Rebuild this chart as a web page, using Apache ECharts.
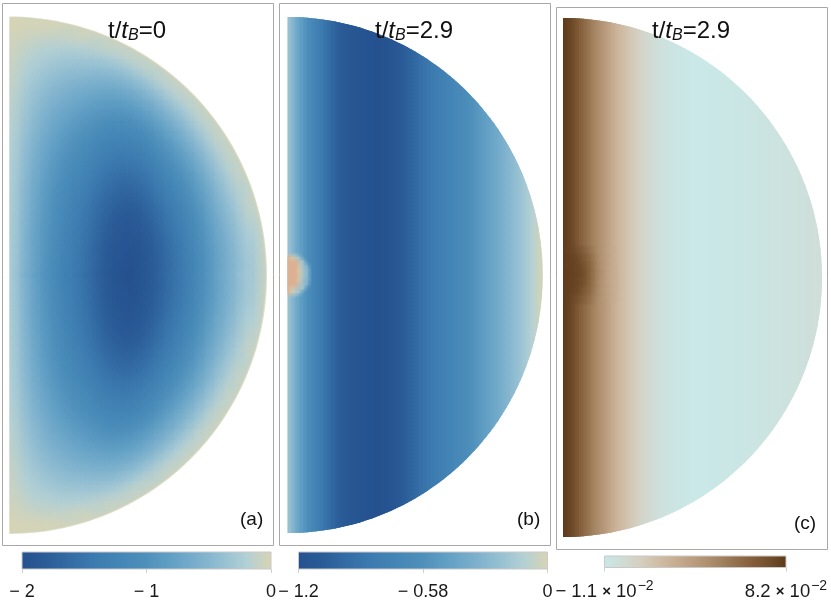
<!DOCTYPE html>
<html><head><meta charset="utf-8">
<style>html,body{margin:0;padding:0;background:#fff}#c{width:831px;height:612px}</style>
<script src="https://cdn.jsdelivr.net/npm/echarts@6/dist/echarts.min.js"></script>
</head><body><div id="c"></div>
<script>
// Panel (a): value read per cell, row = |z| band from the equator, column = s band from the axis
const aRows = [
[-.25,-.55,-.75,-.95,-1.12,-1.28,-1.42,-1.55,-1.70,-1.84,-1.94,-1.99,-1.98,-1.90,-1.78,-1.64,-1.50,-1.34,-1.16,-.96,-.76,-.60,-.44,-.28,-.10],
[-.25,-.55,-.75,-.95,-1.12,-1.28,-1.41,-1.54,-1.69,-1.83,-1.93,-1.98,-1.97,-1.89,-1.77,-1.63,-1.49,-1.33,-1.15,-.95,-.75,-.59,-.43,-.27,-.09],
[-.25,-.54,-.74,-.94,-1.11,-1.27,-1.40,-1.53,-1.68,-1.82,-1.92,-1.96,-1.95,-1.87,-1.75,-1.61,-1.47,-1.31,-1.13,-.94,-.74,-.58,-.42,-.26,-.09],
[-.25,-.54,-.74,-.93,-1.10,-1.25,-1.39,-1.52,-1.66,-1.80,-1.89,-1.94,-1.93,-1.85,-1.73,-1.59,-1.45,-1.29,-1.11,-.91,-.71,-.56,-.39,-.23,-.09],
[-.24,-.53,-.73,-.92,-1.08,-1.24,-1.37,-1.49,-1.64,-1.77,-1.86,-1.91,-1.89,-1.81,-1.69,-1.55,-1.41,-1.25,-1.08,-.88,-.68,-.53,-.36,-.20,-.09],
[-.24,-.52,-.71,-.90,-1.06,-1.21,-1.35,-1.47,-1.61,-1.74,-1.83,-1.87,-1.85,-1.77,-1.65,-1.51,-1.37,-1.21,-1.04,-.84,-.65,-.49,-.33,-.16,-.09],
[-.23,-.51,-.70,-.88,-1.04,-1.19,-1.32,-1.44,-1.57,-1.69,-1.78,-1.82,-1.80,-1.72,-1.60,-1.46,-1.32,-1.16,-.99,-.79,-.60,-.44,-.28,-.12,-.09],
[-.23,-.50,-.68,-.86,-1.02,-1.16,-1.28,-1.40,-1.53,-1.65,-1.73,-1.76,-1.74,-1.66,-1.54,-1.40,-1.26,-1.10,-.93,-.74,-.55,-.39,-.23,-.09,-.09],
[-.22,-.49,-.66,-.84,-.99,-1.13,-1.24,-1.35,-1.48,-1.59,-1.67,-1.70,-1.67,-1.59,-1.47,-1.33,-1.19,-1.04,-.86,-.68,-.49,-.33,-.17,-.09],
[-.21,-.47,-.64,-.81,-.95,-1.09,-1.20,-1.30,-1.42,-1.53,-1.60,-1.63,-1.60,-1.51,-1.39,-1.25,-1.12,-.96,-.79,-.61,-.42,-.27,-.11,-.09],
[-.21,-.45,-.62,-.78,-.92,-1.04,-1.15,-1.25,-1.36,-1.46,-1.52,-1.54,-1.51,-1.43,-1.31,-1.17,-1.03,-.88,-.71,-.53,-.35,-.19,-.09,-.09],
[-.20,-.43,-.59,-.74,-.87,-1.00,-1.10,-1.19,-1.29,-1.39,-1.44,-1.46,-1.42,-1.33,-1.21,-1.08,-.94,-.78,-.62,-.44,-.27,-.11,-.09],
[-.19,-.41,-.56,-.71,-.83,-.94,-1.04,-1.12,-1.22,-1.30,-1.35,-1.36,-1.32,-1.23,-1.11,-.97,-.84,-.68,-.52,-.35,-.18,-.09,-.09],
[-.18,-.39,-.53,-.67,-.78,-.89,-.98,-1.05,-1.14,-1.21,-1.25,-1.25,-1.21,-1.12,-1.00,-.86,-.72,-.57,-.41,-.24,-.09,-.09],
[-.17,-.36,-.50,-.62,-.73,-.83,-.91,-.98,-1.05,-1.12,-1.15,-1.14,-1.09,-1.00,-.88,-.74,-.61,-.46,-.30,-.14,-.09,-.09],
[-.15,-.34,-.46,-.58,-.68,-.76,-.84,-.90,-.96,-1.01,-1.03,-1.02,-.96,-.87,-.75,-.62,-.48,-.33,-.17,-.09,-.09],
[-.14,-.31,-.42,-.53,-.62,-.69,-.76,-.81,-.86,-.90,-.91,-.89,-.83,-.73,-.61,-.48,-.34,-.20,-.09,-.09],
[-.13,-.28,-.38,-.48,-.55,-.62,-.67,-.72,-.76,-.79,-.79,-.75,-.69,-.59,-.47,-.33,-.20,-.09,-.09],
[-.11,-.25,-.34,-.42,-.49,-.54,-.59,-.62,-.65,-.66,-.65,-.61,-.53,-.43,-.31,-.18,-.09,-.09],
[-.10,-.21,-.29,-.36,-.42,-.46,-.49,-.51,-.53,-.53,-.51,-.45,-.37,-.27,-.15,-.09,-.09],
[-.08,-.18,-.24,-.30,-.34,-.38,-.40,-.40,-.41,-.39,-.36,-.29,-.20,-.10,-.09],
[-.07,-.14,-.19,-.23,-.26,-.29,-.29,-.29,-.28,-.25,-.20,-.12,-.09,-.09],
[-.05,-.10,-.14,-.17,-.18,-.19,-.19,-.17,-.14,-.10,-.08,-.08],
[-.03,-.06,-.08,-.09,-.10,-.09,-.07,-.05,-.05],
[-.01,-.02,-.02,-.02,-.02,-.02]
];
const aStep = 0.04;

// Panels (b) and (c): values read per vertical column across s
const bColumns = [-.22,-.31,-.41,-.49,-.57,-.65,-.72,-.78,-.84,-.89,-.95,-1.00,-1.05,-1.08,-1.11,-1.13,-1.15,-1.16,-1.17,-1.18,-1.19,-1.19,-1.20,-1.20,-1.19,-1.17,-1.15,-1.13,-1.10,-1.07,-1.04,-1.01,-.98,-.94,-.91,-.88,-.85,-.83,-.80,-.78,-.75,-.73,-.70,-.68,-.66,-.63,-.60,-.57,-.53,-.50,-.47,-.44,-.41,-.38,-.34,-.31,-.28,-.25,-.22,-.18,-.15,-.11,-.07,-.03];
const cColumns = [8.1,7.8,7.5,7.0,6.4,5.9,5.4,4.9,4.5,4.0,3.6,3.1,2.6,2.2,1.9,1.6,1.3,1.0,.76,.48,.2,.02,-.17,-.36,-.54,-.63,-.73,-.82,-.91,-.96,-1.0,-1.10,-1.10,-1.09,-1.08,-1.07,-1.06,-1.05,-1.03,-1.02,-1.00,-.98,-.96,-.94,-.92,-.90,-.87,-.85,-.82,-.80,-.77,-.74,-.71,-.68,-.65,-.62,-.58,-.55,-.51,-.47,-.43,-.39,-.34,-.30];

// Small equatorial features next to the axis: rows listed by band centre in z
const bBlobZ = [.062,.047,.031,.016,0,-.016,-.031,-.047,-.062];
const bBlob = [
[.10,.0,-.2],[.12,.10,.02,-.2],[.12,.12,.09,-.05,-.35],[.12,.12,.11,-.02,-.3],[.12,.12,.11,-.02,-.3],[.12,.12,.11,-.02,-.3],[.12,.12,.09,-.05,-.35],[.12,.10,.02,-.2],[.10,.0,-.2]
];
const cBlobZ = [.102,.071,.04,.01,-.021,-.052,-.083];
const cBlob = [
[8.1,7.9,7.7,7.4,7.0,6.5,5.9,5.3,4.6,4.0,3.6,3.1,2.6],
[8.1,8.0,7.9,7.8,7.5,7.0,6.4,5.7,4.8,4.1,3.6,3.1,2.6],
[8.1,8.0,8.0,7.9,7.8,7.4,6.7,5.9,4.9,4.2,3.6,3.1,2.6],
[8.1,8.1,8.0,8.0,7.9,7.5,6.8,6.0,5.0,4.3,3.6,3.1,2.6],
[8.1,8.0,8.0,7.9,7.8,7.4,6.7,5.9,4.9,4.2,3.6,3.1,2.6],
[8.1,8.0,7.9,7.8,7.5,7.0,6.4,5.7,4.8,4.1,3.6,3.1,2.6],
[8.1,7.9,7.7,7.4,7.0,6.5,5.9,5.3,4.6,4.0,3.6,3.1,2.6]
];

// Colour scales and tick labels
const blues = ['#25518f','#2a5c98','#346da5','#3d7cb0','#4486b6','#4f90bb','#62a0c5','#79aecc','#94bfd2','#b2d0d5','#d8d4b4'];
const browns = ['#c9e8e7','#d0dcd6','#d5cfc0','#d0bda6','#c6ac90','#b99a7c','#a98a68','#977552','#87603c','#73502c','#5e3a1a'];
const ticksA = [-2,-1,0], labelsA = ['\u2212 2','\u2212 1','0'];
const ticksB = [-1.2,-0.6,0], labelsB = ['\u2212 1.2','\u2212 0.58','0'];
const ticksC = [-1.1,8.2], labelsC = ['{m|\u2212 1.1 }{x|\u00d7}{m| 10}{s|\u22122}','{m|8.2 }{x|\u00d7}{m| 10}{s|\u22122}'];
const titles = ['t/{it|t}{sub|B}=0','t/{it|t}{sub|B}=2.9','t/{it|t}{sub|B}=2.9'];
const tags = ['(a)','(b)','(c)'];

// Layout
const frames = [{l:2.5,t:3.5,r:273.5,b:545.5},{l:279.5,t:3.5,r:550.5,b:545.5},{l:556.5,t:7.5,r:827.5,b:549.5}];
const discs = [{x:9.5,y:275.2,rx:256.5,ry:257.7},{x:287.5,y:275,rx:255.2,ry:258},{x:563,y:277.5,rx:259,ry:259.5}];
const bars = [{l:22,t:552,w:249,h:17},{l:298.5,t:552,w:249,h:17},{l:604.5,t:556,w:181.5,h:11.5}];
const scales = [
 {min:-2,max:0,colors:blues},
 {min:-1.2,max:0,colors:blues,over:'#dcb090'},
 {min:-1.1,max:8.2,colors:browns}
];

function colorOf(sc,v){
  const t=(v-sc.min)/(sc.max-sc.min);
  if(t>1 && sc.over) return sc.over;
  return echarts.color.lerp(Math.max(0,Math.min(1,t)),sc.colors);
}

// cell items: [s0, s1, z0, z1, value]
const dataA=[], softA=[];
aRows.forEach((row,i)=>row.forEach((v,j)=>{
  const last=j===row.length-1;
  const s0=j*aStep, s1=last?1.05:(j+1)*aStep, z0=i*aStep, z1=(i+1)*aStep;
  dataA.push([s0,s1,z0,z1,v]); dataA.push([s0,s1,-z1,-z0,v]);
  if(!last){
    const r=aStep*1.6, sc=s0+aStep/2, zc=z0+aStep/2;
    softA.push([sc-r,sc+r,zc-r,zc+r,v,0]); softA.push([sc-r,sc+r,-zc-r,-zc+r,v,0]);
  }
}));
function columnsData(cols){return cols.map((v,i)=>[i/cols.length,(i+1)/cols.length,-1.05,1.05,v]);}
function columnsSoft(cols){const w=1/cols.length;return cols.map((v,i)=>[(i-1)*w,(i+2)*w,-1.05,1.05,v,1]);}
function blobCells(rows,zs,colW,h){
  const out=[];
  rows.forEach((row,i)=>row.forEach((v,j)=>out.push([j*colW,(j+1)*colW,zs[i]-h/2,zs[i]+h/2,v])));
  return out;
}
function blobSoft(rows,zs,colW,h,g){
  const out=[];
  rows.forEach((row,i)=>row.forEach((v,j)=>{
    const sc=(j+.5)*colW, rs=colW*g, rz=h*g;
    out.push([sc-rs,sc+rs,zs[i]-rz,zs[i]+rz,v,0]);
  }));
  return out;
}
const cellData=[dataA,columnsData(bColumns),columnsData(cColumns)];
const softData=[
  softA,
  columnsSoft(bColumns).concat(blobCells(bBlob,bBlobZ,1/64,.0156).map(c=>c.concat(2)),blobSoft(bBlob,bBlobZ,1/64,.0156,1.8)),
  columnsSoft(cColumns).concat(blobSoft(cBlob,cBlobZ,1/64,.0312,1.8))
];

const grid=[],xAxis=[],yAxis=[],series=[],title=[];
const FONT='"Liberation Sans",Arial,sans-serif';
const clipCache={};
function halfDisc(k,api){
  if(!clipCache[k]){
    const c=api.coord([0,0]), rx=api.size([1,0])[0], ry=api.size([0,1])[1], pts=[];
    for(let i=0;i<=120;i++){const a=-Math.PI/2+Math.PI*i/120;pts.push([c[0]+rx*Math.cos(a),c[1]+ry*Math.sin(a)]);}
    clipCache[k]=pts;
  }
  return {type:'polygon',shape:{points:clipCache[k]}};
}
frames.forEach((f,k)=>{
  const d=discs[k];
  grid.push({left:f.l,top:f.t,width:f.r-f.l,height:f.b-f.t,show:true,borderColor:'#a8a8a8',borderWidth:1,backgroundColor:'#fff'});
  xAxis.push({type:'value',gridIndex:k,show:false,min:(f.l-d.x)/d.rx,max:(f.r-d.x)/d.rx});
  yAxis.push({type:'value',gridIndex:k,show:false,min:(d.y-f.b)/d.ry,max:(d.y-f.t)/d.ry});
  series.push({
    type:'custom',xAxisIndex:k,yAxisIndex:k,coordinateSystem:'cartesian2d',data:cellData[k],animation:false,silent:true,clip:false,z:2,
    renderItem(p,api){
      const a=api.coord([api.value(0),api.value(3)]), b=api.coord([api.value(1),api.value(2)]);
      const x0=Math.floor(a[0]), y0=Math.floor(a[1]), x1=Math.ceil(b[0]), y1=Math.ceil(b[1]);
      return {type:'rect',shape:{x:x0,y:y0,width:x1-x0,height:y1-y0},
        style:{fill:colorOf(scales[k],api.value(4))},clipPath:halfDisc(k,api)};
    }
  });
  // soft overlay of the same read values, so that neighbouring cells blend as in the reference
  series.push({
    type:'custom',xAxisIndex:k,yAxisIndex:k,coordinateSystem:'cartesian2d',data:softData[k],animation:false,silent:true,clip:false,z:3,
    renderItem(p,api){
      const a=api.coord([api.value(0),api.value(3)]), b=api.coord([api.value(1),api.value(2)]);
      const col=colorOf(scales[k],api.value(4)), kind=api.value(5);
      const fill= kind===2? col
        : kind===1 ? new echarts.graphic.LinearGradient(0,0,1,0,[{offset:0,color:echarts.color.modifyAlpha(col,0)},{offset:.5,color:echarts.color.modifyAlpha(col,.65)},{offset:1,color:echarts.color.modifyAlpha(col,0)}])
        : new echarts.graphic.RadialGradient(.5,.5,.5,[{offset:0,color:echarts.color.modifyAlpha(col,.7)},{offset:1,color:echarts.color.modifyAlpha(col,0)}]);
      return {type:'rect',shape:{x:a[0],y:a[1],width:b[0]-a[0],height:b[1]-a[1]},style:{fill},clipPath:halfDisc(k,api)};
    }
  });
});
// thin pale rim on the arc of panel (a)
series.push({type:'custom',xAxisIndex:0,yAxisIndex:0,coordinateSystem:'cartesian2d',data:[[0,0]],animation:false,silent:true,clip:false,z:4,
  renderItem(p,api){
    return {type:'polyline',shape:{points:halfDisc(0,api).shape.points},style:{fill:null,stroke:'#d2d3b9',lineWidth:2,opacity:.75}};
  }});
const tickSets=[ticksA,ticksB,ticksC], labelSets=[labelsA,labelsB,labelsC];
bars.forEach((b,k)=>{
  const gi=k+3, sc=scales[k], ticks=tickSets[k], labels=labelSets[k];
  grid.push({left:b.l,top:b.t,width:b.w,height:b.h,show:false});
  xAxis.push({type:'value',gridIndex:gi,min:sc.min,max:sc.max,
    axisLine:{show:false},splitLine:{show:false},
    axisTick:{show:true,length:4,customValues:ticks,lineStyle:{color:'#cfcfcf'}},
    axisLabel:{show:true,customValues:ticks,margin:k===2?12:14,hideOverlap:false,color:'#1a1a1a',fontFamily:FONT,fontSize:18,
      formatter:(v)=>labels[ticks.indexOf(v)],
      rich:{m:{fontFamily:FONT,fontSize:18.5,color:'#1a1a1a'},x:{fontFamily:FONT,fontSize:15,fontWeight:'bold',color:'#1a1a1a'},s:{fontFamily:FONT,fontSize:14,color:'#1a1a1a',verticalAlign:'top',padding:[0,0,10,1]}}}});
  yAxis.push({type:'value',gridIndex:gi,show:false,min:0,max:1});
  series.push({type:'custom',xAxisIndex:gi,yAxisIndex:gi,coordinateSystem:'cartesian2d',data:[[sc.min,sc.max]],animation:false,silent:true,clip:false,
    renderItem(p,api){
      const a=api.coord([api.value(0),1]), e=api.coord([api.value(1),0]);
      return {type:'rect',shape:{x:a[0],y:a[1],width:e[0]-a[0],height:e[1]-a[1]},
        style:{stroke:'#c9c9c9',lineWidth:1,fill:new echarts.graphic.LinearGradient(0,0,1,0,sc.colors.map((c,i)=>({offset:i/(sc.colors.length-1),color:c})))}};
    }});
});
const titleLeft=[108,375,652], titleTop=[18,18,18];
const tagPos=[[240,510],[517,510],[794,514]];
titles.forEach((t,k)=>{
  title.push({text:t,left:titleLeft[k],top:titleTop[k],z:20,padding:0,
    textStyle:{fontFamily:FONT,fontSize:24,fontWeight:'normal',color:'#111',
      rich:{it:{fontFamily:FONT,fontStyle:'italic',fontSize:24,color:'#111'},sub:{fontFamily:FONT,fontStyle:'italic',fontSize:16,color:'#111',verticalAlign:'bottom',padding:[10,0,0,0]}}}});
  title.push({text:tags[k],left:tagPos[k][0],top:tagPos[k][1],z:20,padding:0,textStyle:{fontFamily:FONT,fontSize:19,fontWeight:'normal',color:'#111'}});
});
const chart=echarts.init(document.getElementById('c'),null,{renderer:'canvas'});
chart.setOption({animation:false,backgroundColor:'#fff',title,grid,xAxis,yAxis,series});
</script></body></html>
